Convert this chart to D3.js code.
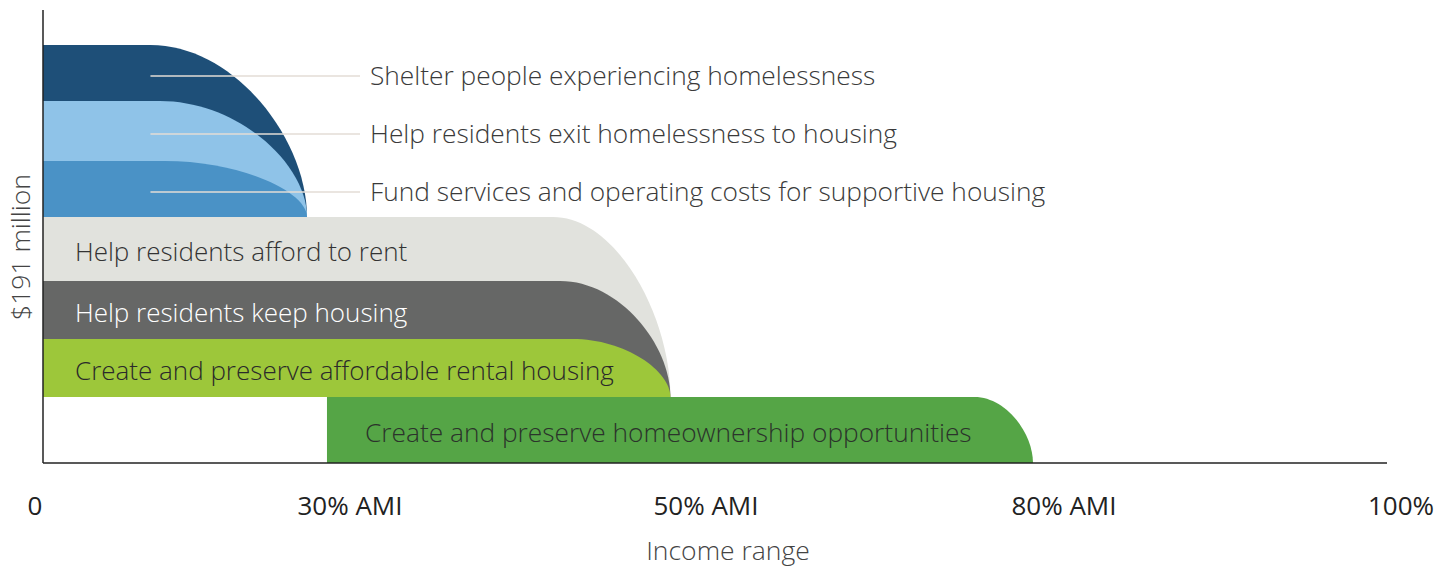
<!DOCTYPE html>
<html>
<head>
<meta charset="utf-8">
<script src="https://cdn.jsdelivr.net/npm/d3@7"></script>
<style>
  html, body { margin: 0; padding: 0; background: #ffffff; }
  svg { display: block; }
</style>
</head>
<body>
<div id="chart"></div>
<script>
// ---------------- data ----------------
const categories = [
  "Shelter people experiencing homelessness",
  "Help residents exit homelessness to housing",
  "Fund services and operating costs for supportive housing",
  "Help residents afford to rent",
  "Help residents keep housing",
  "Create and preserve affordable rental housing",
  "Create and preserve homeownership opportunities"
];
// relative share of the $191 million (estimated from band heights)
const amounts      = [25.6, 27.4, 25.6, 29.2, 26.5, 26.5, 30.2];
// income range covered (percent of AMI)
const incomeStart  = [0, 0, 0, 0, 0, 0, 27.75];
const incomeEnd    = [25.8, 25.8, 25.8, 48, 48, 48, 77.4];
const curveStart   = [10.5, 11.4, 11.9, 41.4, 41.8, 42.5, 72.5];
const groups       = [0, 0, 0, 1, 1, 1, 2];
const labelOutside = [true, true, true, false, false, false, false];
const colors       = ["#1e4f78", "#8fc3e8", "#4a92c6", "#e1e2dd", "#666766", "#9dc73a", "#55a546"];
const textColors   = ["#3a3a3a", "#3a3a3a", "#3a3a3a", "#333333", "#ffffff", "#2a2a2a", "#2b332b"];
const tickValues   = [0, 30, 50, 80, 100];
const tickLabels   = ["0", "30% AMI", "50% AMI", "80% AMI", "100%"];
const total        = 191;
const yAxisTitle   = "$191 million";
const xAxisTitle   = "Income range";

// ---------------- layout ----------------
const W = 1455, H = 569;
const x = d3.scaleLinear().domain([0, 30, 50, 80, 100]).range([43, 350, 706, 1064, 1387]);
const y = d3.scaleLinear().domain([0, total]).range([463, 45]);

const svg = d3.select("#chart").append("svg").attr("width", W).attr("height", H);

// stacked positions (first category on top)
const bottoms = amounts.map((_, i) => d3.sum(amounts.slice(i + 1)));
const tops = amounts.map((a, i) => bottoms[i] + a);
const groupBase = groups.map(g => d3.min(bottoms.filter((_, j) => groups[j] === g)));

const rows = categories.map((c, i) => ({
  name: c, i,
  x0: x(incomeStart[i]), x1: x(incomeEnd[i]), xc: x(curveStart[i]),
  top: y(tops[i]), bottom: y(bottoms[i]), base: y(groupBase[i]),
  mid: (y(tops[i]) + y(bottoms[i])) / 2
}));

const k = 0.45;
function shapePath(d) {
  const p = d3.path();
  p.moveTo(d.x0, d.top);
  p.lineTo(d.xc, d.top);
  p.bezierCurveTo(d.xc + k * (d.x1 - d.xc) * 1.2, d.top,
                  d.x1, d.base - k * (d.base - d.top),
                  d.x1, d.base);
  p.lineTo(d.x0, d.base);
  p.closePath();
  return p.toString();
}

// draw from bottom group up, within group top item first so lower ones overlap
const drawOrder = d3.sort(rows, (a, b) => d3.descending(groups[a.i], groups[b.i]) || d3.ascending(a.i, b.i));

svg.append("g").selectAll("path").data(drawOrder).join("path")
  .attr("d", shapePath)
  .attr("fill", d => colors[d.i]);

// leader lines for outside labels
const outside = rows.filter(d => labelOutside[d.i]);
svg.append("g").selectAll("line").data(outside).join("line")
  .attr("x1", x(curveStart[0]))
  .attr("x2", x(30) + 10)
  .attr("y1", d => d.mid + 3)
  .attr("y2", d => d.mid + 3)
  .attr("stroke", "#e3ddd6")
  .attr("stroke-width", 1.5);

svg.append("g").selectAll("text").data(outside).join("text")
  .attr("x", x(30) + 20)
  .attr("y", d => d.mid + 12)
  .attr("font-family", "'Open Sans', sans-serif")
  .attr("font-weight", 300)
  .attr("font-size", 26.3)
  .attr("fill", d => textColors[d.i])
  .text(d => d.name);

// inside labels
const inside = rows.filter(d => !labelOutside[d.i]);
svg.append("g").selectAll("text").data(inside).join("text")
  .attr("x", d => d.x0 + (groups[d.i] === 2 ? 38 : 32))
  .attr("y", d => d.mid + 12)
  .attr("font-family", "'Open Sans', sans-serif")
  .attr("font-weight", 300)
  .attr("font-size", d => groups[d.i] === 2 ? 26.3 : 26)
  .attr("fill", d => textColors[d.i])
  .text(d => d.name);

// axes lines
svg.append("line")
  .attr("x1", x(0)).attr("x2", x(0))
  .attr("y1", 10).attr("y2", y(0))
  .attr("stroke", "#222").attr("stroke-width", 1.5);
svg.append("line")
  .attr("x1", x(0)).attr("x2", x(100))
  .attr("y1", y(0)).attr("y2", y(0))
  .attr("stroke", "#222").attr("stroke-width", 1.5);

// x tick labels
svg.append("g").selectAll("text").data(tickValues).join("text")
  .attr("x", (v, i) => x(v) + (i === 0 ? -8 : i === tickValues.length - 1 ? 14 : 0))
  .attr("y", 515)
  .attr("text-anchor", "middle")
  .attr("font-family", "'Open Sans', sans-serif")
  .attr("font-weight", 400)
  .attr("font-size", 26)
  .attr("fill", "#222")
  .text((v, i) => tickLabels[i]);

// axis titles
svg.append("text")
  .attr("x", (x(0) + x(100)) / 2 + 13)
  .attr("y", 560)
  .attr("text-anchor", "middle")
  .attr("font-family", "'Open Sans', sans-serif")
  .attr("font-weight", 300)
  .attr("font-size", 26.5)
  .attr("fill", "#444")
  .text(xAxisTitle);

svg.append("text")
  .attr("transform", `translate(30, ${(y(0) + y(total)) / 2 - 7}) rotate(-90)`)
  .attr("text-anchor", "middle")
  .attr("font-family", "'Open Sans', sans-serif")
  .attr("font-weight", 300)
  .attr("font-size", 26.5)
  .attr("fill", "#444")
  .text(yAxisTitle);
</script>
</body>
</html>
